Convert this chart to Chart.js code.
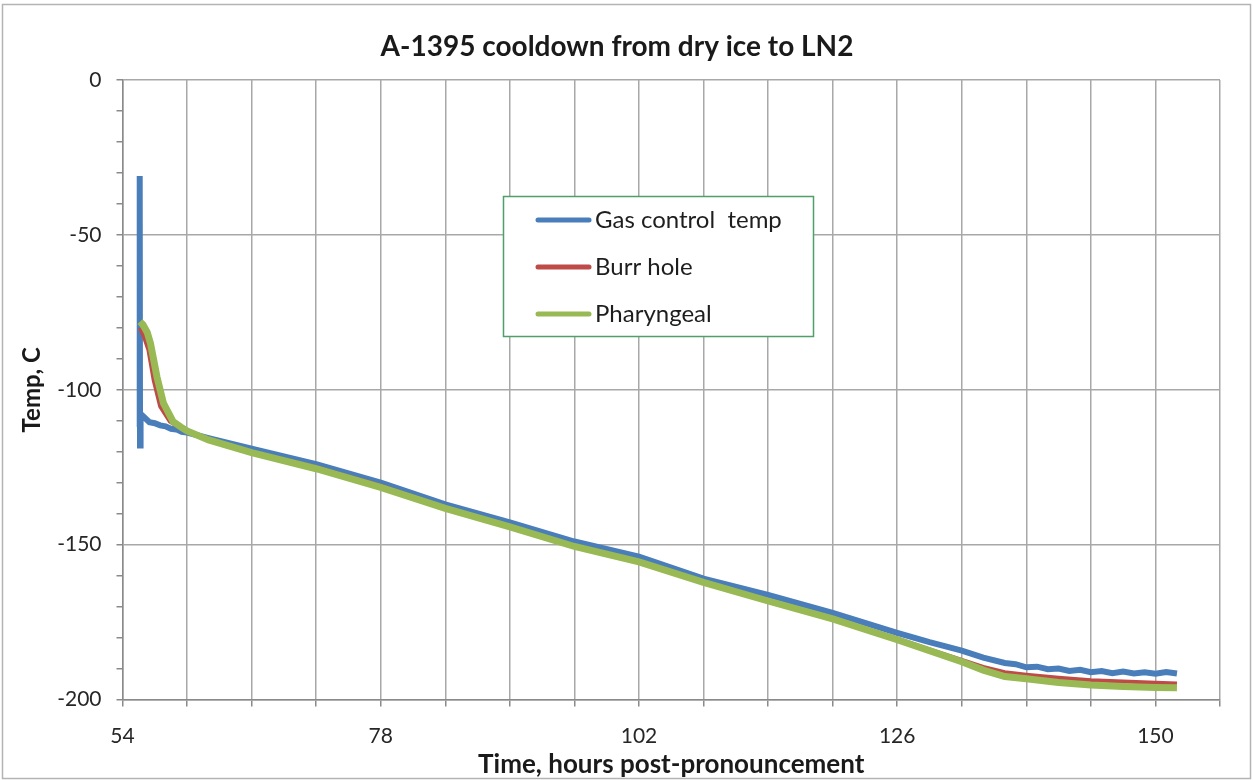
<!DOCTYPE html>
<html>
<head>
<meta charset="utf-8">
<script src="https://cdn.jsdelivr.net/npm/chart.js@4.4.1/dist/chart.umd.min.js"></script>
<style>
  html, body { margin: 0; padding: 0; background: #ffffff; }
  #wrap { width: 1253px; height: 780px; position: relative; }
  canvas { display: block; }
</style>
</head>
<body>
<div id="wrap"><canvas id="c" width="1253" height="780"></canvas></div>
<script>
// ---------------- data ----------------
const chartTitle = 'A-1395 cooldown from dry ice to LN2';
const xTitle = 'Time, hours post-pronouncement';
const yTitle = 'Temp, C';
const seriesNames = ['Gas control  temp', 'Burr hole', 'Pharyngeal'];

const gasTime = [55.55, 55.6, 55.63, 55.68, 55.9, 56.5, 57, 57.5, 58, 58.5, 59, 59.5, 60, 62, 66, 72, 78, 84, 90, 96, 102, 108, 114, 120, 126, 129, 132, 134, 136, 137, 138, 139, 140, 141, 142, 143, 144, 145, 146, 147, 148, 149, 150, 151, 152];
const gasTemp = [-112, -31, -118, -109, -108.5, -110.5, -110.8, -111.5, -111.8, -112.6, -112.8, -113.6, -113.8, -115.6, -119, -124, -130, -137, -142.8, -149, -153.9, -161, -166.2, -172, -178.5, -181.5, -184.2, -186.5, -188.2, -188.6, -189.6, -189.4, -190.2, -190.0, -190.8, -190.4, -191.2, -190.8, -191.5, -191.0, -191.6, -191.2, -191.7, -191.1, -191.6];

const burrTime = [55.62, 56, 56.4, 56.9, 57.5, 58.4, 59.2, 60, 62, 66, 72, 78, 84, 90, 96, 102, 108, 114, 120, 126, 129, 132, 134, 136, 138, 141, 144, 147, 150, 152];
const burrTemp = [-80, -83, -87, -97, -105.4, -110.3, -112, -113.3, -116, -120, -125, -131, -138, -144, -150.3, -155.3, -162, -168, -173.8, -180.3, -183.8, -187.2, -189.5, -191.2, -192, -193, -193.8, -194.2, -194.6, -194.8];

const pharTime = [55.62, 55.9, 56.3, 56.6, 57.2, 57.8, 58.7, 59.4, 60, 62, 66, 72, 78, 84, 90, 96, 102, 108, 114, 120, 126, 129, 132, 134, 136, 138, 141, 144, 147, 150, 152];
const pharTemp = [-78, -79, -81.5, -85, -95.8, -104.3, -110.3, -112, -113.3, -116.2, -120.3, -125.5, -131.5, -138.3, -144.3, -150.6, -155.6, -162.2, -168.2, -174, -180.7, -184.2, -187.8, -190.5, -192.6, -193.3, -194.5, -195.3, -195.8, -196.1, -196.2];

const xMin = 54, xMax = 156, xStep = 6, xLabelEvery = 24;
const yMin = -200, yMax = 0, yStep = 10, yLabelEvery = 50;
// --------------------------------------

const colors = ['#4a7ebb', '#be4b48', '#98b954'];
const toXY = (t, v) => t.map((x, i) => ({ x: x, y: v[i] }));

const FONT = 'Lato, "Open Sans", "DejaVu Sans", sans-serif';

const legendPlugin = {
  id: 'boxLegend',
  afterDraw(chart) {
    const ctx = chart.ctx;
    const bx = 503, by = 196, bw = 310, bh = 140;
    ctx.save();
    ctx.fillStyle = '#ffffff';
    ctx.fillRect(bx, by, bw, bh);
    ctx.strokeStyle = '#4f9f6a';
    ctx.lineWidth = 1.5;
    ctx.strokeRect(bx + 0.5, by + 0.5, bw, bh);
    const rows = [220, 267, 314];
    chart.data.datasets.forEach((ds, i) => {
      ctx.strokeStyle = ds.borderColor;
      ctx.lineWidth = 5;
      ctx.lineCap = 'round';
      ctx.beginPath();
      ctx.moveTo(538, rows[i]);
      ctx.lineTo(589, rows[i]);
      ctx.stroke();
      ctx.fillStyle = '#1e1e1e';
      ctx.font = '24px ' + FONT;
      ctx.textBaseline = 'middle';
      ctx.textAlign = 'left';
      ctx.fillText(ds.label, 595, rows[i]);
    });
    ctx.restore();
  }
};

const framePlugin = {
  id: 'frame',
  beforeDraw(chart) {
    const ctx = chart.ctx;
    ctx.save();
    ctx.fillStyle = '#ffffff';
    ctx.fillRect(0, 0, chart.width, chart.height);
    ctx.strokeStyle = '#b4b4b4';
    ctx.lineWidth = 1.5;
    ctx.strokeRect(2.5, 4.5, 1248, 774);
    ctx.restore();
  }
};

new Chart(document.getElementById('c'), {
  type: 'scatter',
  data: {
    datasets: [
      { label: seriesNames[0], data: toXY(gasTime, gasTemp), borderColor: colors[0], backgroundColor: colors[0], borderWidth: 6, showLine: true, pointRadius: 0, tension: 0, order: 3 },
      { label: seriesNames[1], data: toXY(burrTime, burrTemp), borderColor: colors[1], backgroundColor: colors[1], borderWidth: 4, showLine: true, pointRadius: 0, tension: 0, order: 2 },
      { label: seriesNames[2], data: toXY(pharTime, pharTemp), borderColor: colors[2], backgroundColor: colors[2], borderWidth: 7, showLine: true, pointRadius: 0, tension: 0, order: 1 }
    ]
  },
  options: {
    responsive: false,
    animation: false,
    layout: { padding: { top: 20, left: 14, right: 33, bottom: 0 } },
    plugins: {
      legend: { display: false },
      tooltip: { enabled: false },
      title: {
        display: true,
        text: chartTitle,
        color: '#1a1a1a',
        font: { family: FONT, size: 28, weight: 'bold' },
        padding: { top: 10.2, bottom: 16.2 }
      }
    },
    scales: {
      x: {
        type: 'linear',
        min: xMin, max: xMax,
        ticks: {
          stepSize: xStep,
          autoSkip: false,
          maxRotation: 0,
          padding: 17,
          color: '#262626',
          font: { family: FONT, size: 21 },
          callback: v => ((v - xMin) % xLabelEvery === 0 ? String(v) : '')
        },
        grid: { color: '#a8a8a8', lineWidth: 1.5, tickColor: '#8a8a8a', tickLength: 7 },
        border: { color: '#8a8a8a', width: 1.5 },
        title: { display: true, text: xTitle, color: '#1a1a1a', font: { family: FONT, size: 26, weight: 'bold' }, padding: { top: 0, bottom: 0 } },
        afterFit: s => { s.height = 780 - 699.5; }
      },
      y: {
        min: yMin, max: yMax,
        ticks: {
          stepSize: yStep,
          autoSkip: false,
          padding: 15,
          color: '#262626',
          font: { family: FONT, size: 21 },
          callback: v => (v % yLabelEvery === 0 ? String(v) : '')
        },
        grid: {
          color: c => (c.tick && c.tick.value % yLabelEvery === 0 ? '#a8a8a8' : 'rgba(0,0,0,0)'),
          lineWidth: 1.5,
          tickColor: '#8a8a8a',
          tickLength: 6
        },
        border: { color: '#8a8a8a', width: 1.5 },
        title: { display: true, text: yTitle, color: '#1a1a1a', font: { family: FONT, size: 24, weight: 'bold' }, padding: { top: 4, bottom: 0 } },
        afterFit: s => { s.width = 122.5 - 14; }
      }
    }
  },
  plugins: [framePlugin, legendPlugin]
});
</script>
</body>
</html>
